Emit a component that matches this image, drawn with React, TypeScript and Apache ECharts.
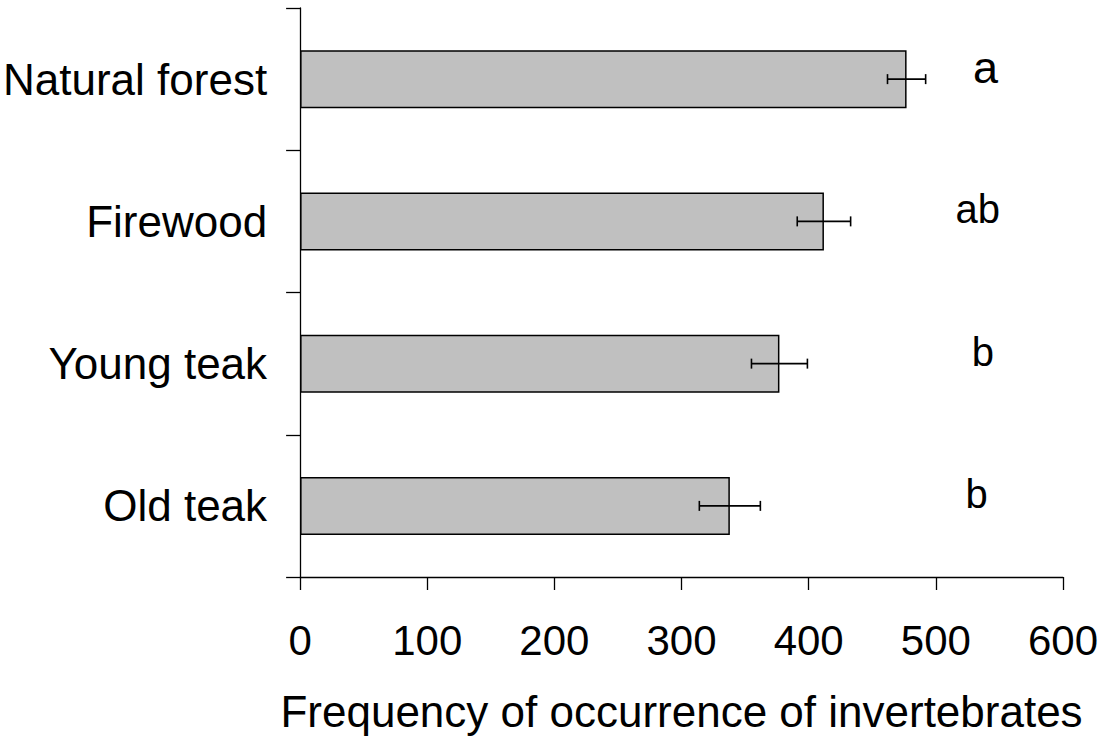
import React, { useEffect, useRef } from "react";
import * as echarts from "echarts";

const categories = ["Natural forest", "Firewood", "Young teak", "Old teak"];
const means = [477, 412, 377, 338];
const errors = [15, 21, 22, 24];
const letters = ["a", "ab", "b", "b"];
const letterAt = [539, 533, 537, 532];
const xTicks = [0, 100, 200, 300, 400, 500, 600];

const FONT = "'Liberation Sans', Arial, Helvetica, sans-serif";
const LETTER_FONT = [45, 40, 40, 40];

export default function App() {
  const ref = useRef<HTMLDivElement>(null);
  useEffect(() => {
    if (!ref.current) return;
    const chart = echarts.init(ref.current, null, { renderer: "svg" });
    const errData = categories.map((_, i) => [
      i,
      means[i] - errors[i],
      means[i] + errors[i],
      letterAt[i],
      letters[i],
    ]);
    chart.setOption({
      animation: false,
      backgroundColor: "#ffffff",
      textStyle: { fontFamily: FONT, color: "#000" },
      grid: { left: 299, right: 37, top: 8, bottom: 154, containLabel: false },
      xAxis: {
        type: "value",
        min: xTicks[0],
        max: xTicks[xTicks.length - 1],
        interval: 100,
        splitLine: { show: false },
        axisLine: { show: true, lineStyle: { color: "#000", width: 1.3 } },
        axisTick: { show: true, length: 13, lineStyle: { color: "#000", width: 1.3 } },
        axisLabel: { fontSize: 42, color: "#000", margin: 42, fontFamily: FONT },
        name: "Frequency of occurrence of invertebrates",
        nameLocation: "middle",
        nameGap: 112,
        nameTextStyle: { fontSize: 44, color: "#000", fontFamily: FONT },
      },
      yAxis: {
        type: "category",
        data: categories,
        inverse: true,
        boundaryGap: true,
        axisLine: { show: true, lineStyle: { color: "#000", width: 1.3 } },
        axisTick: { show: true, length: 14, lineStyle: { color: "#000", width: 1.3 } },
        axisLabel: { fontSize: 44, color: "#000", margin: 33, fontFamily: FONT },
      },
      series: [
        {
          type: "bar",
          data: means,
          barWidth: 58,
          itemStyle: { color: "#c0c0c0", borderColor: "#000", borderWidth: 1.5 },
          silent: true,
        },
        {
          type: "custom",
          data: errData,
          encode: { x: [1, 2], y: 0 },
          silent: true,
          z: 5,
          renderItem: (params: any, api: any) => {
            const idx = api.value(0);
            const lo = api.coord([api.value(1), idx]);
            const hi = api.coord([api.value(2), idx]);
            const lt = api.coord([api.value(3), idx]);
            const cap = 5;
            const ls = { stroke: "#000", lineWidth: 1.6 };
            return {
              type: "group",
              children: [
                { type: "line", shape: { x1: lo[0], y1: lo[1], x2: hi[0], y2: hi[1] }, style: ls },
                { type: "line", shape: { x1: lo[0], y1: lo[1] - cap, x2: lo[0], y2: lo[1] + cap }, style: ls },
                { type: "line", shape: { x1: hi[0], y1: hi[1] - cap, x2: hi[0], y2: hi[1] + cap }, style: ls },
                {
                  type: "text",
                  style: {
                    text: String(api.value(4)),
                    x: lt[0],
                    y: lt[1] - 12,
                    fill: "#000",
                    fontSize: LETTER_FONT[params.dataIndex] || 40,
                    fontFamily: FONT,
                    align: "center",
                    verticalAlign: "middle",
                  },
                },
              ],
            };
          },
        },
      ],
    });
    return () => chart.dispose();
  }, []);
  return (
    <div
      ref={ref}
      style={{ position: "fixed", left: 0, top: 0, width: 1101, height: 738, background: "#fff" }}
    />
  );
}
